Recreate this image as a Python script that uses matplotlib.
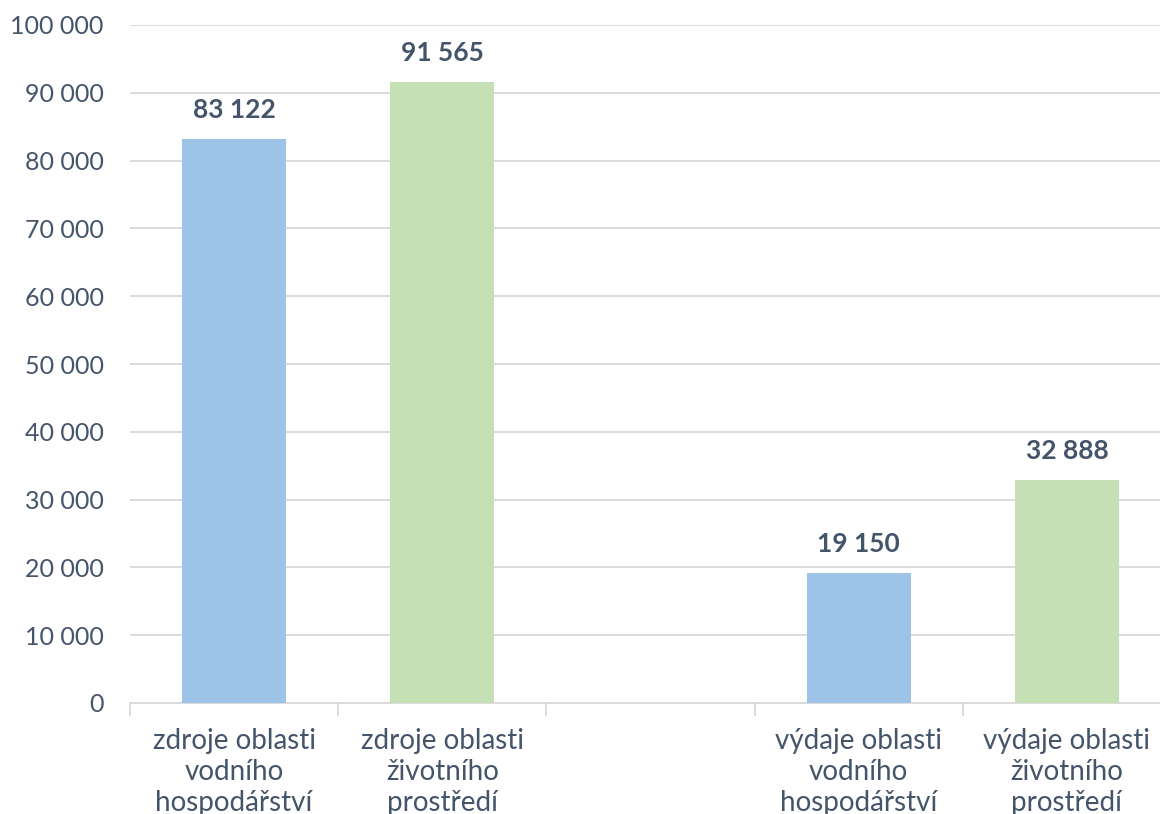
import numpy as np
import matplotlib.pyplot as plt
from matplotlib.ticker import FuncFormatter, FixedLocator

# data
categories = ["zdroje oblasti\nvodního\nhospodářství",
              "zdroje oblasti\nživotního\nprostředí",
              "",
              "výdaje oblasti\nvodního\nhospodářství",
              "výdaje oblasti\nživotního\nprostředí"]
values = [83122, 91565, None, 19150, 32888]
bar_colors = ["#9DC3E6", "#C5E0B4", None, "#9DC3E6", "#C5E0B4"]

text_color = "#44546A"
plt.rcParams['font.family'] = ['Lato', 'DejaVu Sans']

fig = plt.figure(figsize=(11.6, 8.14), dpi=100)
ax = fig.add_axes([130 / 1160, 111 / 814, 1041 / 1160, 678 / 814])

x = np.arange(len(categories))
for xi, v, c in zip(x, values, bar_colors):
    if v is None:
        continue
    ax.bar(xi, v, width=0.5, color=c, zorder=3)
    ax.text(xi, v + 2500, f"{v:,}".replace(",", " "), ha="center", va="bottom",
            fontsize=19, fontweight="bold", color=text_color)

ax.set_xlim(-0.5, len(categories) - 0.5)
ax.set_ylim(0, 100000)
ax.set_yticks(np.arange(0, 100001, 10000))
ax.yaxis.set_major_formatter(FuncFormatter(lambda v, p: f"{int(v):,}".replace(",", " ")))
ax.grid(axis="y", color="#D9D9D9", linewidth=1.3, zorder=0)

ax.set_xticks(x)
ax.set_xticklabels(categories, fontsize=20, color=text_color, linespacing=1.25)
ax.tick_params(axis="x", which="major", length=0, pad=18)
ax.xaxis.set_minor_locator(FixedLocator(np.arange(-0.5, len(categories), 1.0)))
ax.tick_params(axis="x", which="minor", length=9, color="#D9D9D9", width=1.3)
ax.tick_params(axis="y", length=0, labelsize=18, labelcolor=text_color, pad=19)

for s in ["top", "right", "left"]:
    ax.spines[s].set_visible(False)
ax.spines["bottom"].set_color("#D9D9D9")
ax.spines["bottom"].set_linewidth(1.3)

fig.savefig("out.png", dpi=100)
